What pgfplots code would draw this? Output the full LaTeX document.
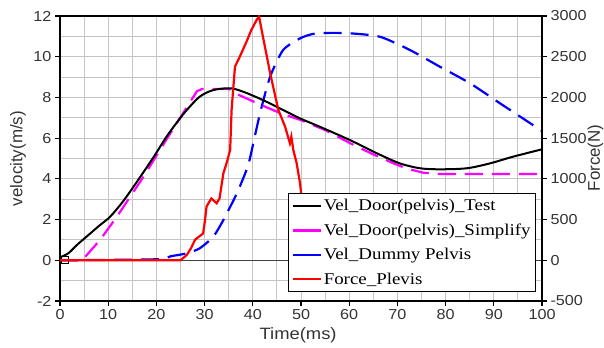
\documentclass[border=0pt]{standalone}
\usepackage{fontspec}
\setmainfont{Liberation Sans}
\newfontfamily\sfs[FakeStretch=1.12]{Liberation Sans}
\newfontfamily\legfont[FakeStretch=1.15]{Liberation Serif}
\usepackage{pgfplots}
\pgfplotsset{compat=1.18}
\definecolor{txt}{HTML}{333333}
\definecolor{gridc}{HTML}{C4C4C4}
\definecolor{zeroc}{HTML}{404040}
\definecolor{mag}{RGB}{255,0,255}
\definecolor{blu}{RGB}{0,0,255}
\definecolor{rd}{RGB}{255,0,0}
\begin{document}
\begin{tikzpicture}
\path[use as bounding box] (-60bp,-47bp) rectangle (544bp,301bp);
\begin{axis}[
 at={(0,0)}, anchor=south west,
 scale only axis, width=482bp, height=285bp,
 xmin=0, xmax=100, ymin=-2, ymax=12,
 xtick={0,10,...,100}, minor xtick={5,15,...,95},
 ytick={-2,0,...,12}, minor ytick={-1,1,...,11},
 grid=both,
 major grid style={gridc, line width=0.9bp},
 minor grid style={gridc, line width=0.9bp},
 xtick pos=bottom, ytick pos=left, tick align=outside,
 major tick length=5bp, minor tick length=0pt,
 axis line style={black, line width=1.3bp},
 major tick style={black, line width=1.1bp},
 /pgf/number format/assume math mode=true,
 tick label style={font=\sfs\fontsize{14.5}{16}\selectfont, text=txt},
 xlabel={Time(ms)}, ylabel={velocity(m/s)},
 xlabel style={font=\sfs\fontsize{16.5}{18}\selectfont, text=txt, at={(axis description cs:0.494,-0.119)}, anchor=center},
 ylabel style={font=\fontsize{17}{18}\selectfont, text=txt, at={(axis description cs:-0.087,0.5)}, anchor=center},
]
\addplot[zeroc, line width=1bp, forget plot] coordinates {(0,0) (100,0)};
% Vel_Dummy Pelvis
\addplot[blu, line width=2.2bp, dash pattern=on 18bp off 9bp, smooth, tension=0.4] coordinates {
(0,0) (20,0.05) (23,0.2) (26.3,0.34) (29,0.59) (31.8,1.16) (33.9,1.98) (36.7,3.29)
(38.7,4.44) (39.4,5.0) (41.5,7.22) (43.6,9.02) (46.3,10.33) (49.8,10.9) (52.5,11.12)
(56,11.17) (60.2,11.15) (66.4,10.98) (72.6,10.33) (78.8,9.51) (85.1,8.69) (91.3,7.71)
(100,6.35)};
% Vel_Door(pelvis)_Simplify
\addplot[mag, line width=2.2bp, dash pattern=on 18bp off 9bp] coordinates {
(0,0) (4.6,0) (8.3,1.0) (11.8,2.14) (17.3,4.1) (22,5.9) (26,7.4) (28.4,8.3)
(29.5,8.42) (35,8.42) (37.3,8.1) (42,7.6) (46,7.2) (49.8,6.9) (55,6.4) (60.2,5.75)
(65,5.2) (69.2,4.76) (72,4.5) (75.4,4.3) (78.8,4.24) (100,4.24)};
% Vel_Door(pelvis)_Test
\addplot[black, line width=2bp, smooth, tension=0.5] coordinates {
(0,0.15) (1.7,0.34) (3.5,0.75) (5.5,1.16) (8.3,1.73) (10.4,2.14) (13.1,2.9) (16.2,3.94)
(19.5,5.1) (22.1,6.07) (24.5,6.85) (26.3,7.38) (29,8.04) (31.8,8.36)
(35.3,8.45) (38,8.28) (42.1,7.87) (46.3,7.38) (49.8,6.97) (53.9,6.56) (60.2,5.9)
(65.7,5.26) (70.5,4.76) (74.7,4.52) (78.8,4.47) (84.4,4.52) (89.2,4.76) (94,5.09)
(100,5.45)};
\addplot[black, line width=0.9bp, only marks, mark=square, mark size=3.5bp] coordinates {(1,0)};
\end{axis}
\begin{axis}[
 at={(0,0)}, anchor=south west,
 scale only axis, width=482bp, height=285bp,
 xmin=0, xmax=100, ymin=-500, ymax=3000,
 axis x line=none, axis y line*=right,
 ytick={-500,0,...,3000},
 tick align=outside, major tick length=5bp,
 axis line style={black, line width=1.3bp},
 major tick style={black, line width=1.1bp},
 /pgf/number format/assume math mode=true,
 /pgf/number format/1000 sep={},
 tick label style={font=\sfs\fontsize{14.5}{16}\selectfont, text=txt},
 ylabel={Force(N)},
 ylabel style={font=\fontsize{17}{18}\selectfont, text=txt, at={(axis description cs:1.111,0.502)}, anchor=center},
 legend style={at={(axis description cs:0.473,0.379)}, anchor=north west,
   draw=black, line width=1.2bp, fill=white,
   font=\legfont\fontsize{16.5}{18}\selectfont, row sep=7.5bp, inner ysep=4bp},
 legend cell align=left,
 legend image code/.code={\draw[#1] (0bp,0bp) -- (28bp,0bp);},
]
\addlegendimage{black, line width=2.2bp}
\addlegendentry{Vel\_Door(pelvis)\_Test}
\addlegendimage{mag, line width=2.2bp}
\addlegendentry{Vel\_Door(pelvis)\_Simplify}
\addlegendimage{blu, line width=2.2bp}
\addlegendentry{Vel\_Dummy Pelvis}
\addplot[rd, line width=2.2bp] coordinates {
(0,0) (25,0) (26.3,65) (27.2,150) (28.0,250) (28.4,270) (29.7,330) (30.1,500)
(30.4,660) (31.4,760) (32.5,700) (33.1,760) (33.9,1070) (34.6,1200) (35.3,1355)
(35.6,1846) (36.3,2378) (37.3,2500) (38.7,2685) (39.7,2829) (40.8,2952) (41.3,2993)
(42.1,2747) (43.6,2297) (45.3,1846) (46.7,1641) (47.7,1437) (48.0,1518) (48.4,1355)
(49.1,1191) (49.8,946) (50.1,781) (50.5,400) (51,0)};
\addlegendentry{Force\_Plevis}
\end{axis}
\end{tikzpicture}
\end{document}
